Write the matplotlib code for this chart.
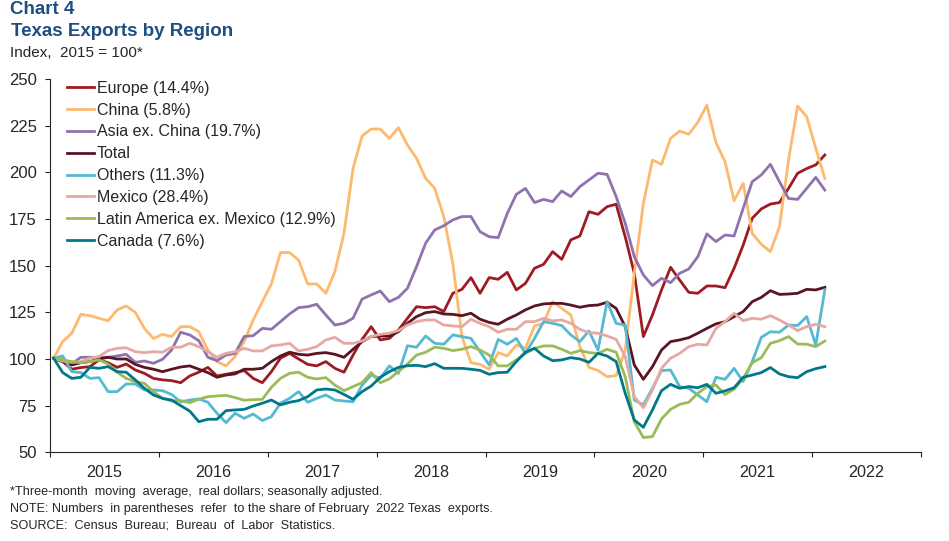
import matplotlib
matplotlib.use("Agg")
import matplotlib.pyplot as plt
import numpy as np

W, H = 949, 541

# monthly index values, Jan 2015 - Feb 2022
europe = [100.4, 98.6, 94.5, 95.4, 95.9, 99.5, 98, 95.5, 97.3, 94.1, 92.3, 89.6, 88.8, 88.4, 87.3, 90.9, 92.9, 95.5, 90.9, 91.8, 92.7, 93.8, 89.6, 87.3, 93.2, 100.4, 103, 100, 97.1, 96.3, 98.6,
          95, 92.9, 102.1, 110.5, 117.3, 110.2, 111, 115.5, 121.8, 128, 127.5, 128, 125.4, 135.2, 137.3, 143.6, 135.2, 143.6, 142.7, 146.4, 137, 140.5, 148.6, 150.7, 157.5, 153.4, 163.8, 165.9, 178.9, 177.5, 181.6, 182.9,
          165.4, 145.9, 112, 123.6, 137, 149.1, 142.3, 135.7, 135.2, 139.1, 139.1, 138.2, 148.6, 161, 175.4, 180.4, 183, 183.8, 191.4, 199.5, 202, 204, 209.3]
china = [100.4, 109.3, 113.8, 123.9, 123.2, 121.8, 120.5, 126.3, 128.4, 125, 116.4, 111, 113.2, 112, 117.3, 117.3, 114.6, 104.8, 98.6, 96.3, 101.3, 109.3, 120.9, 130.7, 140.2, 157, 157, 153, 140.2, 140.2, 135.2,
         146.8, 167.3, 202.1, 219.5, 223.2, 223.2, 218.2, 223.9, 214.6, 207.5, 196.8, 191.4, 176.3, 151.2, 112, 98, 97.1, 94.5, 103.4, 101.6, 107.5, 105.7, 117.7, 119.1, 130.7, 127.1, 123.6, 106.6, 95.5, 93.8, 90.5, 91.1,
         104.8, 145.9, 183.4, 206.6, 204.3, 218.2, 222.1, 220.4, 226.8, 236, 215.9, 205.7, 184.8, 194.1, 167.3, 161.4, 157.5, 170.9, 206.6, 235.5, 229.8, 212.9, 196.8]
asia = [100.4, 99.5, 97.3, 100.9, 100.9, 100.9, 100.9, 101.6, 102.5, 98.2, 98.9, 97.7, 99.8, 104.8, 114.3, 112.9, 109.8, 100.9, 99.1, 102.1, 103, 112, 112.5, 116.4, 115.9, 120, 124.1, 127.5, 128, 129.3, 123.6,
        118.2, 119.1, 121.8, 132.1, 134.3, 136.4, 130.7, 133, 137.9, 149.5, 162, 169.1, 171.4, 174.5, 176.3, 176.3, 168.2, 165.5, 165, 178, 188.2, 191.4, 183.8, 185.5, 184.3, 190, 187, 192.3, 195.9, 199.5, 198.9, 187,
        172.7, 154.8, 145, 139.3, 143.2, 140.9, 145.9, 148.2, 154.8, 167, 162.9, 166.4, 165.9, 180.7, 195, 198.6, 204.3, 195, 186, 185.5, 191.4, 197.3, 190.5]
total = [100.4, 98.6, 96.8, 98, 98.6, 100, 100.9, 100, 100, 97.1, 95.5, 94.5, 93.2, 94.5, 95.7, 96.3, 94.5, 92.7, 90.2, 91.4, 92, 94.5, 94.5, 95, 98.6, 101.6, 103.6, 102.5, 102.1, 103, 103.4,
         102.5, 100.9, 105.2, 109.3, 112, 112.3, 112.3, 114.6, 119.1, 122.7, 124.8, 125.4, 124.1, 123.9, 123.2, 124.5, 121.3, 119.6, 118.6, 121.3, 123.6, 126.3, 128.4, 129.5, 129.8, 129.8, 128.9, 127.7, 128.6, 128.9, 130.4, 127.1,
         117.3, 96.8, 89.1, 95.9, 104.8, 109.3, 110.2, 111.4, 113.8, 116.4, 118.8, 120, 122.7, 125.4, 130.7, 133, 136.6, 134.6, 134.8, 135.2, 137.3, 137, 138.4]
others = [100.4, 101.6, 93.2, 92.7, 89.6, 90, 82.5, 82.5, 86.6, 86.6, 83.4, 83.4, 83, 81, 77, 78, 78.6, 76.8, 70.9, 65.9, 70.9, 68.2, 70.5, 67, 69.1, 76.3, 78.9, 82.5, 76.8, 78.9, 80.7,
          78, 77.5, 77.1, 86, 91.4, 89.6, 96.3, 92.3, 107.1, 106.3, 112.3, 108.4, 107.9, 112.9, 112, 111, 103.9, 96.8, 110.5, 107.9, 111, 103, 111, 120, 119.1, 117.9, 112.9, 109.3, 115, 104.8, 130.7, 119.1,
          118.2, 78, 75.4, 84.3, 93.8, 94.1, 85.2, 84.3, 80.7, 77.1, 90.2, 89.1, 95, 87.9, 98.6, 111.6, 114.6, 114.3, 118.2, 117.9, 122.7, 107.5, 137]
mexico = [100.4, 98.9, 98.2, 98.6, 100.4, 101.3, 104.5, 105.7, 106, 103.9, 103.4, 103.9, 103.6, 106.3, 106.3, 108.4, 106.6, 103.9, 100.9, 103, 103.9, 105.7, 104.3, 104.3, 107, 107.5, 108.4, 104.3, 105.2, 106.6, 110.2,
          111.6, 108.4, 108.4, 109.6, 112, 113.2, 113.8, 115.2, 118.2, 120, 120.9, 120.9, 118.2, 117.7, 117.3, 121.3, 119.1, 117.3, 114.3, 115.9, 115.9, 120, 120, 121.8, 120.4, 120.9, 119.1, 115.9, 114.1, 113.8, 112.3, 110.5,
          101.3, 79.8, 73.9, 83.4, 95, 100.4, 103, 106.6, 107.9, 107.5, 116.4, 120, 124.5, 120.5, 121.8, 121.3, 123.2, 120.9, 118.2, 115.2, 117.3, 118.6, 117.3]
latam = [100.4, 99.5, 98.6, 98, 98.6, 99.5, 97.3, 92.9, 89.6, 87.9, 87, 82.5, 78.9, 77.5, 77.7, 76.6, 78.4, 79.8, 80.2, 80.5, 79.3, 77.9, 78.2, 78.4, 84.8, 89.6, 92.3, 92.9, 90.2, 89.3, 90,
         86, 83, 85.2, 87.3, 92.7, 87.3, 89.3, 93.2, 97.3, 102.1, 103.6, 106.3, 105.7, 104.5, 105.2, 106.6, 104.8, 102.1, 96.3, 96.3, 99.5, 103, 105.7, 107, 107, 105.2, 103, 104.5, 103.4, 103, 105.2, 103.6,
         90.5, 66.4, 57.9, 58.4, 67.9, 73, 75.7, 76.8, 81.6, 85.2, 86, 81, 83.8, 89.6, 98, 100.7, 108.4, 109.8, 112, 108, 107.9, 106.6, 109.6]
canada = [100.4, 92.7, 89.6, 90.2, 95.5, 95, 95.9, 93.2, 92.9, 88.8, 84.3, 80.7, 78.9, 78, 75, 72.1, 66.4, 67.7, 67.7, 72.3, 72.7, 73, 74.8, 76.3, 78, 75.4, 76.8, 77.7, 79.8, 83.4, 83.9,
          83.4, 81, 78.4, 82.5, 85.5, 90.2, 93.2, 95.5, 96.4, 96.6, 95.9, 97.5, 95, 95, 95, 94.5, 93.9, 91.8, 92.7, 92.9, 98.6, 103.6, 105.7, 101.6, 99.1, 99.5, 100.7, 100, 98.2, 103, 101.6, 98.6,
          81.6, 67.3, 63.4, 72.7, 83, 86.4, 84.3, 85.2, 84.6, 86.4, 81.6, 82.9, 84.6, 90.2, 91.4, 92.7, 95.4, 92, 90.5, 90, 93.2, 94.8, 95.9]

labels = ["Europe (14.4%)", "China (5.8%)", "Asia ex. China (19.7%)", "Total", "Others (11.3%)",
          "Mexico (28.4%)", "Latin America ex. Mexico (12.9%)", "Canada (7.6%)"]
colors = ["#9E1B23", "#FDB96E", "#8F72AE", "#5A1422", "#55B9D3", "#E8A8A2", "#9BBB59", "#00788A"]
series = [europe, china, asia, total, others, mexico, latam, canada]

years = ["2015", "2016", "2017", "2018", "2019", "2020", "2021", "2022"]
yticks = [50, 75, 100, 125, 150, 175, 200, 225, 250]

plt.rcParams["font.family"] = ["Liberation Sans", "DejaVu Sans"]
TEXT = "#262626"

fig = plt.figure(figsize=(W / 100, H / 100), dpi=100)
ax = fig.add_axes([50 / W, 1 - 452.3 / H, 871 / W, 373.3 / H])

for vals, lab, col in zip(series, labels, colors):
    ax.plot(np.arange(len(vals)), vals, color=col, lw=2.0, label=lab, solid_joinstyle="round")

x0 = -0.4
ax.set_xlim(x0, x0 + 96)
ax.set_ylim(50, 250)
ax.set_yticks(yticks)
ax.set_xticks([x0 + 12 * k for k in range(9)])
ax.set_xticklabels([])
ax.set_xticks([x0 + 6 + 12 * k for k in range(8)], minor=True)
ax.set_xticklabels(years, minor=True)
ax.tick_params(axis="x", which="major", length=3.6, width=0.8, color="#222222")
ax.tick_params(axis="x", which="minor", length=0, pad=9, labelsize=11.6, labelcolor=TEXT)
ax.tick_params(axis="y", length=3.6, width=0.8, color="#222222", pad=6, labelsize=12, labelcolor=TEXT)
for s in ["top", "right"]:
    ax.spines[s].set_visible(False)
for s in ["left", "bottom"]:
    ax.spines[s].set_linewidth(0.8)
    ax.spines[s].set_color("#222222")

leg = ax.legend(loc="upper left", bbox_to_anchor=(17 / 871, 1 - 1.7 / 373.3), frameon=False, borderpad=0, borderaxespad=0,
                fontsize=11.5, handlelength=1.66, handletextpad=0.2, labelspacing=0.43, labelcolor=TEXT)


def px_text(x, y, s, **kw):
    fig.text(x / W, 1 - y / H, s, va="center", ha="left", **kw)


BLUE = "#1F4E82"
px_text(10.5, 10, "Chart 4", fontsize=13.5, fontweight="bold", color=BLUE)
px_text(11, 31, "Texas Exports by Region", fontsize=13.5, fontweight="bold", color=BLUE)
px_text(10, 53, "Index,  2015 = 100*", fontsize=11, color=TEXT)
px_text(10, 492.5, "*Three-month  moving  average,  real dollars; seasonally adjusted.", fontsize=9.05, color=TEXT)
px_text(10, 509, "NOTE: Numbers  in parentheses  refer  to the share of February  2022 Texas  exports.", fontsize=9.1, color=TEXT)
px_text(10, 525.5, "SOURCE:  Census  Bureau;  Bureau  of  Labor  Statistics.", fontsize=9.1, color=TEXT)

fig.savefig("out.png", dpi=100)
